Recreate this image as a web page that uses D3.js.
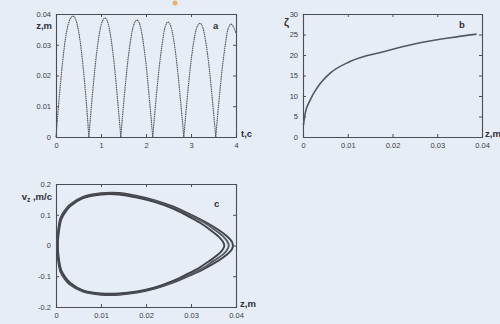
<!DOCTYPE html>
<html>
<head>
<meta charset="utf-8">
<script src="https://cdn.jsdelivr.net/npm/d3@7"></script>
<style>
  html, body { margin: 0; padding: 0; background: #e7edf7; }
  svg { display: block; font-family: "Liberation Sans", Arial, sans-serif; }
</style>
</head>
<body>
<div id="chart"></div>
<script>
// panel a: z(t), one arch per bounce
const archT = [
  [0.00, 0.07, 0.14, 0.21, 0.29, 0.38, 0.46, 0.53, 0.60, 0.67, 0.73],
  [0.73, 0.80, 0.87, 0.94, 1.01, 1.09, 1.16, 1.23, 1.30, 1.37, 1.44],
  [1.44, 1.51, 1.58, 1.65, 1.72, 1.80, 1.87, 1.94, 2.01, 2.08, 2.15],
  [2.15, 2.22, 2.29, 2.36, 2.42, 2.49, 2.56, 2.63, 2.70, 2.77, 2.84],
  [2.84, 2.91, 2.98, 3.05, 3.12, 3.20, 3.27, 3.34, 3.41, 3.48, 3.55],
  [3.55, 3.62, 3.69, 3.76, 3.82, 3.89, 3.95, 4.00]
];
const archZ = [
  [0, 0.0125, 0.0235, 0.0320, 0.0375, 0.0393, 0.0372, 0.0318, 0.0232, 0.0120, 0],
  [0, 0.0122, 0.0230, 0.0314, 0.0368, 0.0387, 0.0368, 0.0313, 0.0228, 0.0118, 0],
  [0, 0.0120, 0.0226, 0.0308, 0.0361, 0.0380, 0.0362, 0.0307, 0.0224, 0.0116, 0],
  [0, 0.0118, 0.0222, 0.0303, 0.0355, 0.0374, 0.0356, 0.0302, 0.0220, 0.0114, 0],
  [0, 0.0116, 0.0220, 0.0300, 0.0352, 0.0370, 0.0352, 0.0298, 0.0218, 0.0113, 0],
  [0, 0.0115, 0.0218, 0.0298, 0.0349, 0.0367, 0.0356, 0.0338]
];
const aXTicks = [0, 1, 2, 3, 4];
const aYTicks = [0, 0.01, 0.02, 0.03, 0.04];

// panel b: zeta(z)
const bZ    = [0.0001, 0.0005, 0.0016, 0.0031, 0.0060, 0.0105, 0.0180, 0.0254, 0.0329, 0.0388];
const bZeta = [2.9, 5.8, 9.0, 11.9, 15.5, 18.4, 20.8, 22.8, 24.2, 25.1];
const bXTicks = [0, 0.01, 0.02, 0.03, 0.04];
const bYTicks = [0, 5, 10, 15, 20, 25, 30];

// panel c: phase loops v_z(z), three of the cycles
const loopZ = [
  [0.0002, 0.0004, 0.0010, 0.0020, 0.0030, 0.006, 0.010, 0.014, 0.018, 0.022, 0.026, 0.030, 0.033, 0.036, 0.0380, 0.0391, 0.0393,
   0.0391, 0.0380, 0.036, 0.033, 0.030, 0.026, 0.022, 0.018, 0.014, 0.010, 0.006, 0.0030, 0.0020, 0.0010, 0.0004],
  [0.0003, 0.0005, 0.0011, 0.0021, 0.0031, 0.006, 0.010, 0.014, 0.018, 0.022, 0.026, 0.030, 0.033, 0.035, 0.0372, 0.0381, 0.0384,
   0.0381, 0.0372, 0.035, 0.033, 0.030, 0.026, 0.022, 0.018, 0.014, 0.010, 0.006, 0.0031, 0.0021, 0.0011, 0.0005],
  [0.0004, 0.0006, 0.0012, 0.0022, 0.0032, 0.006, 0.010, 0.014, 0.018, 0.022, 0.026, 0.029, 0.032, 0.034, 0.0362, 0.0371, 0.0374,
   0.0371, 0.0362, 0.034, 0.032, 0.029, 0.026, 0.022, 0.018, 0.014, 0.010, 0.006, 0.0032, 0.0022, 0.0012, 0.0006]
];
const loopV = [
  [0, 0.040, 0.090, 0.115, 0.132, 0.158, 0.170, 0.171, 0.161, 0.147, 0.127, 0.100, 0.078, 0.052, 0.030, 0.012, 0,
   -0.012, -0.029, -0.050, -0.075, -0.096, -0.121, -0.140, -0.153, -0.160, -0.160, -0.150, -0.126, -0.110, -0.086, -0.040],
  [0, 0.040, 0.088, 0.113, 0.130, 0.156, 0.168, 0.168, 0.158, 0.144, 0.123, 0.096, 0.074, 0.054, 0.029, 0.012, 0,
   -0.012, -0.028, -0.050, -0.071, -0.093, -0.118, -0.138, -0.151, -0.158, -0.158, -0.148, -0.124, -0.108, -0.084, -0.040],
  [0, 0.040, 0.086, 0.111, 0.128, 0.154, 0.166, 0.166, 0.156, 0.141, 0.120, 0.098, 0.074, 0.054, 0.028, 0.012, 0,
   -0.012, -0.027, -0.051, -0.071, -0.094, -0.115, -0.136, -0.149, -0.156, -0.156, -0.146, -0.122, -0.106, -0.082, -0.040]
];
const cXTicks = [0, 0.01, 0.02, 0.03, 0.04];
const cYTicks = [-0.2, -0.1, 0, 0.1, 0.2];

const width = 500, height = 324;
const ink = "#4b4d55", textInk = "#3a3c44";

const svg = d3.select("#chart").append("svg")
  .attr("width", width)
  .attr("height", height);

svg.append("rect").attr("width", width).attr("height", height).attr("fill", "#e7edf7");

// scan artefact
svg.append("circle").attr("cx", 175).attr("cy", 3).attr("r", 2.5).attr("fill", "#e8a24a").attr("opacity", 0.8);

const fmt = d => (d === 0 ? "0" : String(d));

// draws frame, mirrored inward ticks and labels, returns scales
function panel(box, xDomain, yDomain, xTicks, yTicks) {
  const x = d3.scaleLinear().domain(xDomain).range([box.x0, box.x1]);
  const y = d3.scaleLinear().domain(yDomain).range([box.y1, box.y0]);
  const g = svg.append("g");

  g.append("g").attr("transform", `translate(0,${box.y1})`)
    .call(d3.axisBottom(x).tickValues(xTicks).tickSize(-3).tickPadding(6).tickFormat(fmt));
  g.append("g").attr("transform", `translate(0,${box.y0})`)
    .call(d3.axisTop(x).tickValues(xTicks).tickSize(-3).tickFormat(""));
  g.append("g").attr("transform", `translate(${box.x0},0)`)
    .call(d3.axisLeft(y).tickValues(yTicks).tickSize(-3).tickPadding(5).tickFormat(fmt));
  g.append("g").attr("transform", `translate(${box.x1},0)`)
    .call(d3.axisRight(y).tickValues(yTicks).tickSize(-3).tickFormat(""));

  g.selectAll(".domain").attr("stroke", ink).attr("stroke-width", 1.1);
  g.selectAll(".tick line").attr("stroke", ink);
  g.selectAll(".tick text").attr("fill", textInk).attr("font-size", 7.5);
  return { x, y, g };
}

function label(x, y, txt, anchor) {
  return svg.append("text").attr("x", x).attr("y", y)
    .attr("font-size", 9.5).attr("font-weight", "bold").attr("fill", "#2e3038")
    .attr("text-anchor", anchor || "start").text(txt);
}

// ---- panel a
const pa = panel({ x0: 56, x1: 236, y0: 14, y1: 137 }, [0, 4], [0, 0.04], aXTicks, aYTicks);
const lineA = d3.line().x(d => pa.x(d[0])).y(d => pa.y(d[1])).curve(d3.curveMonotoneX);
archT.forEach((ts, i) => {
  pa.g.append("path")
    .attr("d", lineA(ts.map((t, j) => [t, archZ[i][j]])))
    .attr("fill", "none").attr("stroke", "#55575f").attr("stroke-width", 1.1)
    .attr("stroke-dasharray", "1.6,0.6");
});
label(52, 29, "z,m", "end");
label(213, 29, "a");
label(241, 137, "t,c");

// ---- panel b
const pb = panel({ x0: 303, x1: 482, y0: 14, y1: 137 }, [0, 0.04], [0, 30], bXTicks, bYTicks);
pb.g.append("path")
  .attr("d", d3.line().x((d, i) => pb.x(d)).y((d, i) => pb.y(bZeta[i])).curve(d3.curveMonotoneX)(bZ))
  .attr("fill", "none").attr("stroke", "#55575f").attr("stroke-width", 1.6);
svg.append("text").attr("x", 284).attr("y", 26).attr("font-size", 11).attr("font-weight", "bold")
  .attr("fill", "#2e3038").text("ζ");
label(459, 28, "b");
label(485, 137, "z,m");

// ---- panel c
const pc = panel({ x0: 56, x1: 236, y0: 184, y1: 307 }, [0, 0.04], [-0.2, 0.2], cXTicks, cYTicks);
const lineC = d3.line().x(d => pc.x(d[0])).y(d => pc.y(d[1])).curve(d3.curveCatmullRomClosed);
loopZ.forEach((zs, i) => {
  pc.g.append("path")
    .attr("d", lineC(zs.map((z, j) => [z, loopV[i][j]])))
    .attr("fill", "none").attr("stroke", i === 1 ? "#5a5c64" : "#42444c").attr("stroke-width", 1.9);
});
const vl = svg.append("text").attr("x", 52).attr("y", 200).attr("font-size", 9.5)
  .attr("font-weight", "bold").attr("fill", "#2e3038").attr("text-anchor", "end");
vl.append("tspan").text("v");
vl.append("tspan").attr("font-size", 6.5).attr("dy", 2).text("z");
vl.append("tspan").attr("dy", -2).text(" ,m/c");
label(214, 207, "c");
label(240, 307, "z,m");
</script>
</body>
</html>
